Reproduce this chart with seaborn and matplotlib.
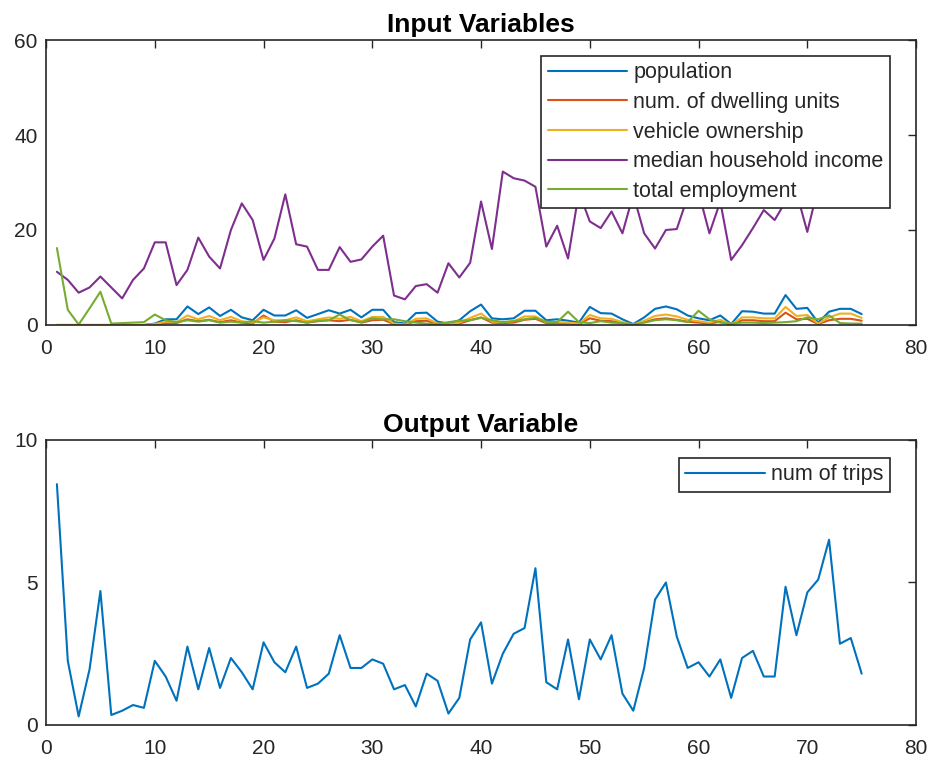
import numpy as np
import pandas as pd
import seaborn as sns
import matplotlib
matplotlib.use("Agg")
import matplotlib.pyplot as plt

# sample index (1..75)
idx = np.arange(1, 76)

population = [0, 0, 0, 0, 0, 0, 0, 0, 0,
              0.3, 1.2, 1.2, 3.9, 2.3, 3.7, 1.9, 3.2, 1.6, 1.0,
              3.2, 2.0, 2.0, 3.1, 1.5, 2.3, 3.1, 2.4, 3.2, 1.6,
              3.2, 3.2, 0.6, 0.3, 2.5, 2.6, 0.7, 0.3, 1.0, 2.9,
              4.3, 1.4, 1.2, 1.4, 3.0, 3.0, 1.0, 1.2, 0.9, 0.5,
              3.8, 2.5, 2.4, 1.2, 0.2, 1.6, 3.4, 3.9, 3.3, 2.0,
              1.4, 1.0, 2.0, 0.2, 2.9, 2.8, 2.4, 2.4, 6.3, 3.4,
              3.6, 0.5, 2.8, 3.4, 3.4, 2.3]
dwelling_units = [0, 0, 0, 0, 0, 0, 0, 0, 0,
                  0.1, 0.4, 0.4, 1.2, 0.8, 1.1, 0.6, 1.0, 0.5, 0.3,
                  2.0, 0.7, 0.6, 1.0, 0.5, 0.8, 1.0, 0.8, 1.1, 0.5,
                  1.0, 1.1, 0.2, 0.1, 0.8, 0.9, 0.2, 0.1, 0.3, 1.0,
                  1.6, 0.5, 0.4, 0.5, 1.1, 1.3, 0.4, 0.4, 0.3, 0.2,
                  1.4, 0.9, 0.8, 0.4, 0.1, 0.6, 1.2, 1.4, 1.1, 0.7,
                  0.5, 0.3, 0.7, 0.1, 1.0, 1.0, 0.8, 0.8, 2.6, 1.2,
                  1.3, 0.2, 1.0, 1.3, 1.3, 0.9]
vehicle_ownership = [0, 0, 0, 0, 0, 0, 0, 0, 0,
                     0.2, 0.7, 0.6, 2.0, 1.2, 1.9, 1.0, 1.7, 0.8, 0.5,
                     1.6, 1.0, 1.0, 1.6, 0.8, 1.2, 1.6, 1.3, 1.7, 0.8,
                     1.7, 1.7, 0.3, 0.1, 1.3, 1.4, 0.3, 0.1, 0.5, 1.5,
                     2.4, 0.7, 0.6, 0.8, 1.8, 1.8, 0.6, 0.6, 0.5, 0.3,
                     2.1, 1.4, 1.3, 0.6, 0.1, 0.9, 1.9, 2.2, 1.8, 1.1,
                     0.8, 0.5, 1.1, 0.1, 1.6, 1.6, 1.4, 1.4, 3.8, 1.9,
                     2.1, 0.3, 1.6, 2.4, 2.4, 1.5]
median_income = [11.2, 9.5, 6.8, 7.9, 10.2, 7.9, 5.6, 9.5, 11.9, 17.4,
                 17.4, 8.4, 11.6, 18.4, 14.4, 11.9, 20.0, 25.6, 22.1, 13.7,
                 18.2, 27.5, 17.0, 16.5, 11.6, 11.6, 16.4, 13.3, 13.8, 16.5,
                 18.8, 6.2, 5.4, 8.2, 8.6, 6.8, 13.0, 10.0, 13.1, 26.0,
                 16.0, 32.3, 30.9, 30.4, 29.1, 16.5, 20.9, 14.0, 28.0, 21.8,
                 20.4, 23.9, 19.3, 27.5, 19.3, 16.1, 20.0, 20.2, 27.0, 28.0,
                 19.3, 26.0, 13.7, 16.8, 20.4, 24.2, 22.1, 26.0, 28.0, 19.6,
                 29.0, 30.0, 31.0, 29.5, 30.5]
employment = [16.2, 3.2, 0.1, 3.5, 7.0, 0.3, 0.4, 0.5, 0.6, 2.2,
              1.0, 0.6, 1.0, 0.7, 1.0, 0.5, 0.7, 0.5, 0.8, 0.5,
              0.7, 1.0, 0.8, 0.5, 0.9, 1.0, 2.2, 1.0, 0.6, 1.4,
              1.2, 1.2, 0.8, 0.5, 0.3, 0.2, 0.6, 0.9, 1.0, 1.5,
              1.0, 0.6, 0.8, 1.2, 1.5, 0.7, 0.6, 2.8, 0.6, 0.4,
              0.8, 0.5, 0.4, 0.1, 0.5, 1.0, 1.2, 1.0, 0.6, 3.0,
              1.2, 0.5, 0.3, 0.5, 0.5, 0.4, 0.5, 0.6, 0.8, 1.6,
              1.2, 2.0, 0.4, 0.3, 0.3]
num_trips = [8.45, 2.25, 0.3, 1.95, 4.7, 0.35, 0.5, 0.7, 0.6, 2.25,
             1.7, 0.85, 2.75, 1.25, 2.7, 1.3, 2.35, 1.85, 1.25, 2.9,
             2.2, 1.85, 2.75, 1.3, 1.45, 1.8, 3.15, 2.0, 2.0, 2.3,
             2.15, 1.25, 1.4, 0.65, 1.8, 1.55, 0.4, 0.95, 3.0, 3.6,
             1.45, 2.5, 3.2, 3.4, 5.5, 1.5, 1.25, 3.0, 0.9, 3.0,
             2.3, 3.15, 1.1, 0.5, 2.0, 4.4, 5.0, 3.1, 2.0, 2.2,
             1.7, 2.3, 0.95, 2.35, 2.6, 1.7, 1.7, 4.85, 3.15, 4.65,
             5.1, 6.5, 2.85, 3.05, 1.8]

input_labels = ["population", "num. of dwelling units", "vehicle ownership",
                "median household income", "total employment"]
input_colors = ["#0072BD", "#D95319", "#EDB120", "#7E2F8E", "#77AC30"]

sns.set_style("white")
plt.rcParams["font.family"] = ["Liberation Sans", "DejaVu Sans"]

inputs = pd.DataFrame({
    "x": np.tile(idx, 5),
    "value": np.concatenate([population, dwelling_units, vehicle_ownership,
                             median_income, employment]),
    "variable": np.repeat(input_labels, len(idx)),
})
outputs = pd.DataFrame({"x": idx, "value": num_trips})

fig = plt.figure(figsize=(9.3, 7.62), dpi=100)
ax1 = fig.add_axes([0.0495, 0.5735, 0.9355, 0.374])
ax2 = fig.add_axes([0.0495, 0.0486, 0.9355, 0.374])

sns.lineplot(data=inputs, x="x", y="value", hue="variable",
             hue_order=input_labels, palette=input_colors,
             linewidth=1.5, ax=ax1)
sns.lineplot(data=outputs, x="x", y="value", color="#0072BD",
             linewidth=1.5, label="num of trips", ax=ax2)

for ax, ymax, yt in [(ax1, 60, [0, 20, 40, 60]), (ax2, 10, [0, 5, 10])]:
    ax.set_xlim(0, 80)
    ax.set_ylim(0, ymax)
    ax.set_xticks(range(0, 81, 10))
    ax.set_yticks(yt)
    ax.set_xlabel("")
    ax.set_ylabel("")
    ax.tick_params(direction="in", top=True, right=True, length=6,
                   width=1, color="#262626", labelcolor="#262626",
                   labelsize=15, pad=6)
    ax.tick_params(axis="x", pad=10)
    for s in ax.spines.values():
        s.set_color("#262626")
        s.set_linewidth(1.2)

ax1.set_title("Input Variables", fontsize=19, fontweight="bold",
              color="black", pad=6)
ax2.set_title("Output Variable", fontsize=19, fontweight="bold",
              color="black", pad=6)

for ax, anchor in [(ax1, (0.970, 0.944)), (ax2, (0.970, 0.937))]:
    leg = ax.legend(loc="upper right", bbox_to_anchor=anchor, fontsize=15.5,
                    fancybox=False, framealpha=1, edgecolor="#262626",
                    handlelength=3.7, handletextpad=0.28, labelspacing=0.4,
                    borderpad=0.3, borderaxespad=0)
    leg.get_frame().set_linewidth(1.2)

fig.savefig("out.png", dpi=100)
